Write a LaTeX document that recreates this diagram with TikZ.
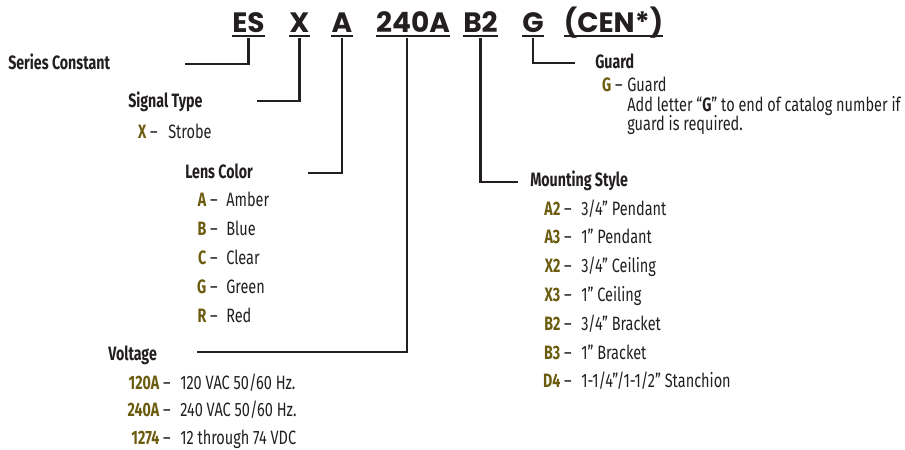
\documentclass[tikz,border=0pt]{standalone}
\usepackage{fontspec}
\setmainfont{Fira Sans}[FakeStretch=0.75, BoldFeatures={FakeStretch=0.735}]
\newfontfamily\headfont{Poppins}
\usepackage{xcolor}
\usetikzlibrary{positioning,calc}
\definecolor{inkgray}{HTML}{231F20}
\definecolor{codegold}{HTML}{6B5B0E}
\newcommand{\cd}[1]{\textcolor{codegold}{\bfseries #1}~–}

\begin{document}
\begin{tikzpicture}[
  x=0.75pt, y=-0.75pt,
  every node/.style={inner sep=0pt, text=inkgray, font=\fontsize{14.5}{17}\selectfont},
  head/.style={font=\headfont\bfseries\fontsize{21}{24}\selectfont, anchor=base},
  title/.style={font=\bfseries\fontsize{14.5}{17}\selectfont, anchor=base west},
  code/.style={anchor=base east},
  desc/.style={anchor=base west},
  leader/.style={draw=inkgray, line width=1.9pt}
]
\useasboundingbox (0,0) rectangle (905,449);

% catalog number
\node[head] (hes) at (248.5,33) {ES};
\node[head] (hx) at (299.5,33) {X};
\node[head] (ha) at (342,33) {A};
\node[head] (hv) at (413,33) {240A};
\node[head] (hb) at (480.5,33) {B2};
\node[head] (hg) at (533,33) {G};
\node[head] (hc) at (613.5,33) {(CEN*)};
\foreach \n in {hes,hx,ha,hv,hb,hg,hc}
  \draw[inkgray, line width=1.6pt] ($(\n.base west)+(0,3)$) -- ($(\n.base east)+(0,3)$);

% headings
\node[title] (series) at (8,70) {Series Constant};
\node[title] (signal) at (128,108) {Signal Type};
\node[title] (lens) at (185,178) {Lens Color};
\node[title] (volt) at (108,360) {Voltage};
\node[title] (mount) at (530,186) {Mounting Style};
\node[title] (guard) at (595,69) {Guard};

% options
\node[code] (sx) at (158,138) {\cd{X}};
\node[desc] (sxd) at (168,138) {Strobe};

\foreach \c/\d [count=\i from 0] in {A/Amber,B/Blue,C/Clear,G/Green,R/Red}
  \node[code] (lc\i) at (218,206+29*\i) {\cd{\c}}
    node[desc] (lcd\i) at (226,206+29*\i) {\d};

\foreach \c/\d [count=\i from 0] in {120A/{120 VAC 50/60 Hz.},240A/{240 VAC 50/60 Hz.},1274/{12 through 74 VDC}}
  \node[code] (vo\i) at (171,389+27.5*\i) {\cd{\c}}
    node[desc] (vod\i) at (180,389+27.5*\i) {\d};

\foreach \c/\d [count=\i from 0] in {A2/{3/4” Pendant},A3/{1” Pendant},X2/{3/4” Ceiling},X3/{1” Ceiling},B2/{3/4” Bracket},B3/{1” Bracket},D4/{1-1/4”/1-1/2” Stanchion}}
  \node[code] (ms\i) at (572,215+28.8*\i) {\cd{\c}}
    node[desc] (msd\i) at (581,215+28.8*\i) {\d};

\node[code] (gx) at (623,92) {\cd{G}};
\node[desc] (gd1) at (627,92) {Guard};
\node[desc] (gd2) at (627,112) {Add letter “\textbf{G}” to end of catalog number if};
\node[desc] (gd3) at (627,131) {guard is required.};

% leaders
\coordinate (esend) at (185,64);
\coordinate (xend) at (257,101);
\coordinate (aend) at (308,173);
\coordinate (vend) at (197,352);
\coordinate (bend) at (518,182);
\coordinate (gend) at (575,63);
\draw[leader] ($(hes.base)+(0,5)$) |- (esend);
\draw[leader] ($(hx.base)+(0,5)$) |- (xend);
\draw[leader] ($(ha.base)+(0,5)$) |- (aend);
\draw[leader] ($(hv.base)+(-6,5)$) |- (vend);
\draw[leader] ($(hb.base)+(0,5)$) |- (bend);
\draw[leader] ($(hg.base)+(0,5)$) |- (gend);
\end{tikzpicture}
\end{document}
